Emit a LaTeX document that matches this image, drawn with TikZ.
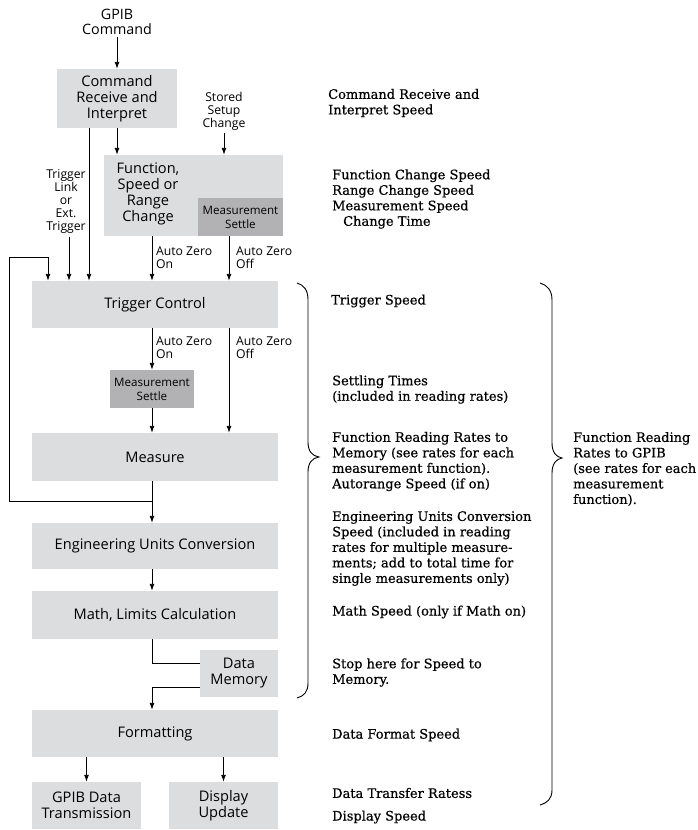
\documentclass[tikz,border=0pt]{standalone}
\usepackage{fontspec}
\setsansfont{Open Sans}
\newfontfamily\speedfont{DejaVu Serif}[FakeBold=0.6]
\usetikzlibrary{arrows.meta}
\definecolor{boxgray}{RGB}{220,221,223}
\definecolor{settlegray}{RGB}{178,178,181}
\tikzset{
	stage/.style={fill=boxgray, inner sep=0pt, align=center, font=\sffamily\fontsize{14.6}{16}\selectfont},
	settle/.style={fill=settlegray, inner sep=0pt, align=center, font=\sffamily\fontsize{11.6}{14}\selectfont},
	cue/.style={inner sep=3pt, align=center, font=\sffamily\fontsize{12.2}{13}\selectfont},
	speed/.style={inner sep=0pt, align=left, anchor=west, font=\speedfont\fontsize{13}{15.5}\selectfont},
	flow/.style={line width=0.9pt, -{Latex[length=7pt,width=5pt]}},
	wire/.style={line width=0.9pt}
}

\begin{document}
\begin{tikzpicture}[x=1pt, y=-1pt]
			%%%%% START %%%%%
			\useasboundingbox (0,0) rectangle (698,830);
			
			\coordinate (colL) at (9,0);
			\coordinate (colF) at (48,0);
			\coordinate (colE) at (69,0);
			\coordinate (colT) at (89,0);
			\coordinate (colA) at (152,0);
			\coordinate (colB) at (229,0);
			
			\node[inner sep=3pt, align=center, font=\sffamily\fontsize{14.3}{15}\selectfont] (gpibcmd) at (117,21.5) {GPIB\\Command};
			\node[stage, minimum width=120pt, minimum height=59pt] (cmd) at (117,98.5) {Command\\Receive and\\Interpret};
			\node[cue] (stored) at (224,111) {Stored\\Setup\\Change};
			
			\node[fill=boxgray, inner sep=0pt, minimum width=179pt, minimum height=81pt] (func) at (193.5,195.5) {};
			\node[stage, fill=none] (functxt) at (148,194) {Function,\\Speed or\\Range\\Change};
			\node[settle, minimum width=85pt, minimum height=38pt] (settleA) at (240.5,217) {Measurement\\Settle};
			
			\node[cue] (extrig) at (66,201.5) {Trigger\\Link\\or\\Ext.\\Trigger};
			
			\node[stage, minimum width=246pt, minimum height=47pt] (trig) at (155,304.5) {Trigger Control};
			\node[settle, minimum width=84pt, minimum height=38pt] (settleB) at (152,389) {Measurement\\Settle};
			\node[stage, minimum width=246pt, minimum height=48pt] (meas) at (155,457) {Measure};
			\node[stage, minimum width=246pt, minimum height=46pt] (eng) at (155,546) {Engineering Units Conversion};
			\node[stage, minimum width=246pt, minimum height=48pt] (math) at (155,615) {Math, Limits Calculation};
			\node[stage, minimum width=78pt, minimum height=47pt] (mem) at (239,673.5) {Data\\Memory};
			\node[stage, minimum width=246pt, minimum height=47pt] (fmt) at (155,733.5) {Formatting};
			\node[stage, minimum width=109pt, minimum height=47pt] (gpib) at (86.5,805.5) {GPIB Data\\Transmission};
			\node[stage, minimum width=109pt, minimum height=47pt] (disp) at (223.5,805.5) {Display\\Update};
			
			\node[cue, align=left, anchor=west] (azonA) at (153,258) {Auto Zero\\On};
			\node[cue, align=left, anchor=west] (azoffA) at (233,258) {Auto Zero\\Off};
			\node[cue, align=left, anchor=west] (azonB) at (153,348) {Auto Zero\\On};
			\node[cue, align=left, anchor=west] (azoffB) at (233,348) {Auto Zero\\Off};
			
			\draw[flow] (gpibcmd) -- (cmd);
			\draw[flow] (cmd.south) -- (cmd.south |- func.north);
			\draw[flow] (stored) -- (stored |- func.north);
			\draw[flow] (colT |- cmd.south) -- (colT |- trig.north);
			\draw[flow] (extrig.south -| colE) -- (colE |- trig.north);
			\draw[flow] (colA |- func.south) -- (colA |- trig.north);
			\draw[flow] (colB |- settleA.south) -- (colB |- trig.north);
			\draw[flow] (colA |- trig.south) -- (settleB.north);
			\draw[flow] (colB |- trig.south) -- (colB |- meas.north);
			\draw[flow] (settleB.south) -- (colA |- meas.north);
			\draw[flow] (colA |- meas.south) -- (colA |- eng.north);
			
			\coordinate (loopjoin) at (152,501);
			\coordinate (loopturn) at (9,257);
			\draw[flow] (loopjoin) -| (loopturn) -| (colF |- trig.north);
			
			\draw[flow] (colA |- eng.south) -- (colA |- math.north);
			\draw[wire] (colA |- math.south) |- ([yshift=10.5pt]mem.west);
			\draw[flow] ([yshift=-13.5pt]mem.west) -| (colA |- fmt.north);
			\draw[flow] (gpib.north |- fmt.south) -- (gpib.north);
			\draw[flow] (disp.north |- fmt.south) -- (disp.north);
			
			% braces
			\draw[wire] (297,283) .. controls (304,285) and (308,290) .. (308,300) -- (308,442) .. controls (308,451) and (312,456) .. (319,457) .. controls (312,458) and (308,463) .. (308,472) -- (308,683) .. controls (308,692) and (304,696) .. (297,698);
			\draw[wire] (540,283) .. controls (547,285) and (552,290) .. (552,300) -- (552,443) .. controls (552,452) and (556,457) .. (562,458) .. controls (556,459) and (552,464) .. (552,473) -- (552,790) .. controls (552,799) and (547,803) .. (540,805);
			
			\node[speed] (cmdspeed) at (328,103) {Command Receive and\\Interpret Speed};
			\node[speed] (funcspeed) at (332,199) {Function Change Speed\\Range Change Speed\\Measurement Speed\\\hspace*{11pt}Change Time};
			\node[speed] (trigspeed) at (331,301) {Trigger Speed};
			\node[speed] (settlespeed) at (332,389.5) {Settling Times\\(included in reading rates)};
			\node[speed] (memrates) at (332,461.5) {Function Reading Rates to\\Memory (see rates for each\\measurement function).\\Autorange Speed (if on)};
			\node[speed] (engspeed) at (332,548.5) {Engineering Units Conversion\\Speed (included in reading\\rates for multiple measure-\\ments; add to total time for\\single measurements only)};
			\node[speed] (mathspeed) at (332,612) {Math Speed (only if Math on)};
			\node[speed] (stopmem) at (332,672.5) {Stop here for Speed to\\Memory.};
			\node[speed] (fmtspeed) at (332,735) {Data Format Speed};
			\node[speed] (xferspeed) at (332,793) {Data Transfer Ratess};
			\node[speed] (dispspeed) at (332,817) {Display Speed};
			\node[speed] (gpibrates) at (573,469) {Function Reading\\Rates to GPIB\\(see rates for each\\measurement\\function).};
			%%%%% END %%%%%
\end{tikzpicture}
\end{document}
